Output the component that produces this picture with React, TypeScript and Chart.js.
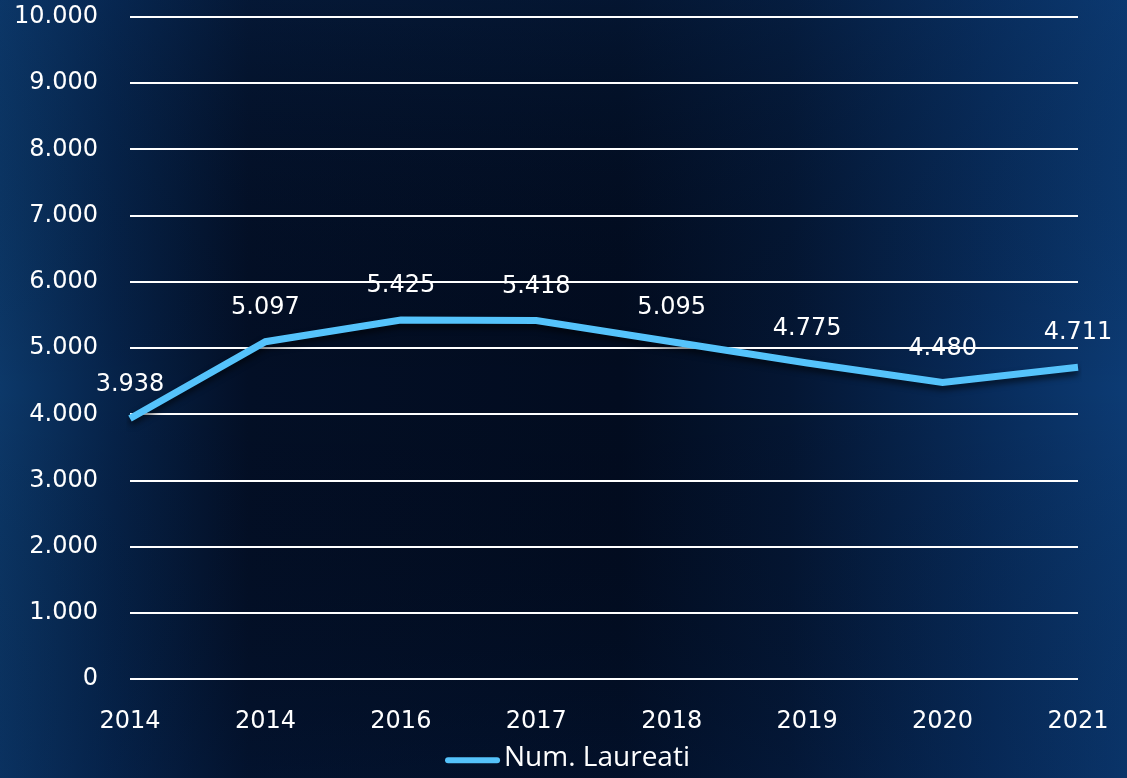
import React, { useEffect, useRef } from "react";
import { Chart, registerables } from "chart.js";

Chart.register(...registerables);

const years = ["2014", "2014", "2016", "2017", "2018", "2019", "2020", "2021"];
const laureati = [3938, 5097, 5425, 5418, 5095, 4775, 4480, 4711];
const seriesName = "Num. Laureati";
const yMin = 0;
const yMax = 10000;
const yStep = 1000;

const lineColor = "#55c3fb";
const tickFont = "'DejaVu Sans', sans-serif";

const fmt = (v: number) => {
  const s = Math.round(v).toString();
  return s.replace(/\B(?=(\d{3})+(?!\d))/g, ".");
};

const bgPlugin = {
  id: "bg",
  beforeDraw(chart: any) {
    const { ctx, width, height } = chart;
    ctx.save();
    const g = ctx.createLinearGradient(0, 0, width, 0);
    g.addColorStop(0, "#0c3869");
    g.addColorStop(0.1, "#06234a");
    g.addColorStop(0.22, "#030f26");
    g.addColorStop(0.55, "#020c20");
    g.addColorStop(0.7, "#041633");
    g.addColorStop(0.88, "#082c5c");
    g.addColorStop(1, "#0c3b74");
    ctx.fillStyle = g;
    ctx.fillRect(0, 0, width, height);
    const v = ctx.createLinearGradient(0, 0, 0, height);
    v.addColorStop(0, "rgba(10,50,100,0.25)");
    v.addColorStop(0.5, "rgba(0,0,0,0)");
    v.addColorStop(1, "rgba(4,30,70,0.25)");
    ctx.fillStyle = v;
    ctx.fillRect(0, 0, width, height);
    ctx.restore();
  },
};

const shadowPlugin = {
  id: "lineShadow",
  beforeDatasetDraw(chart: any) {
    const ctx = chart.ctx;
    ctx.save();
    ctx.shadowColor = "rgba(0,0,0,0.6)";
    ctx.shadowBlur = 6;
    ctx.shadowOffsetY = 4;
  },
  afterDatasetDraw(chart: any) {
    chart.ctx.restore();
  },
};

const labelPlugin = {
  id: "valueLabels",
  afterDatasetsDraw(chart: any) {
    const ctx = chart.ctx;
    const meta = chart.getDatasetMeta(0);
    const data = chart.data.datasets[0].data as number[];
    ctx.save();
    ctx.fillStyle = "#ffffff";
    ctx.font = `24px ${tickFont}`;
    ctx.textAlign = "center";
    ctx.textBaseline = "middle";
    meta.data.forEach((pt: any, i: number) => {
      ctx.fillText(fmt(data[i]), pt.x, pt.y - 34);
    });
    ctx.restore();
  },
};

const legendPlugin = {
  id: "customLegend",
  afterDraw(chart: any) {
    const { ctx, width, chartArea } = chart;
    const ds = chart.data.datasets[0];
    ctx.save();
    ctx.font = "28px 'Open Sans', sans-serif";
    const tw = ctx.measureText(ds.label).width;
    const sw = 55;
    const gap = 4;
    const total = sw + gap + tw;
    const x0 = width / 2 - total / 2 + 4;
    const cy = chartArea.bottom + 79;
    ctx.strokeStyle = ds.borderColor;
    ctx.lineWidth = 6;
    ctx.lineCap = "round";
    ctx.beginPath();
    ctx.moveTo(x0 + 3, cy + 2);
    ctx.lineTo(x0 + sw - 3, cy + 2);
    ctx.stroke();
    ctx.fillStyle = "#ffffff";
    ctx.textAlign = "left";
    ctx.textBaseline = "middle";
    ctx.fillText(ds.label, x0 + sw + gap, cy);
    ctx.restore();
  },
};

export default function App() {
  const ref = useRef<HTMLCanvasElement>(null);

  useEffect(() => {
    document.body.style.margin = "0";
    const canvas = ref.current!;
    const chart = new Chart(canvas, {
      type: "line",
      data: {
        labels: years,
        datasets: [
          {
            label: seriesName,
            data: laureati,
            borderColor: lineColor,
            backgroundColor: lineColor,
            borderWidth: 7,
            pointRadius: 0,
            pointHoverRadius: 0,
            tension: 0,
            fill: false,
          },
        ],
      },
      options: {
        animation: false,
        responsive: false,
        maintainAspectRatio: false,
        layout: { padding: { top: 17, right: 49, bottom: 14, left: 0 } },
        plugins: {
          tooltip: { enabled: false },
          legend: { display: false },
        },
        scales: {
          x: {
            offset: false,
            grid: { display: false, drawTicks: false },
            border: { display: false },
            ticks: {
              color: "#ffffff",
              font: { family: tickFont, size: 24 },
              padding: 28,
              maxRotation: 0,
              autoSkip: false,
            },
            afterFit: (scale: any) => {
              scale.paddingLeft = 0;
              scale.paddingRight = 0;
            },
          },
          y: {
            min: yMin,
            max: yMax,
            grid: { color: "#ffffff", lineWidth: 2, drawTicks: false },
            border: { display: false },
            ticks: {
              stepSize: yStep,
              color: "#ffffff",
              font: { family: tickFont, size: 24 },
              padding: 32,
              callback: (v: any) => fmt(Number(v)),
            },
            afterFit: (scale: any) => {
              scale.width = 130;
              scale.paddingTop = 0;
              scale.paddingBottom = 0;
            },
          },
        },
      },
      plugins: [bgPlugin, shadowPlugin, labelPlugin, legendPlugin],
    });
    return () => chart.destroy();
  }, []);

  return (
    <div style={{ width: 1127, height: 778 }}>
      <canvas ref={ref} width={1127} height={778} style={{ display: "block" }} />
    </div>
  );
}
